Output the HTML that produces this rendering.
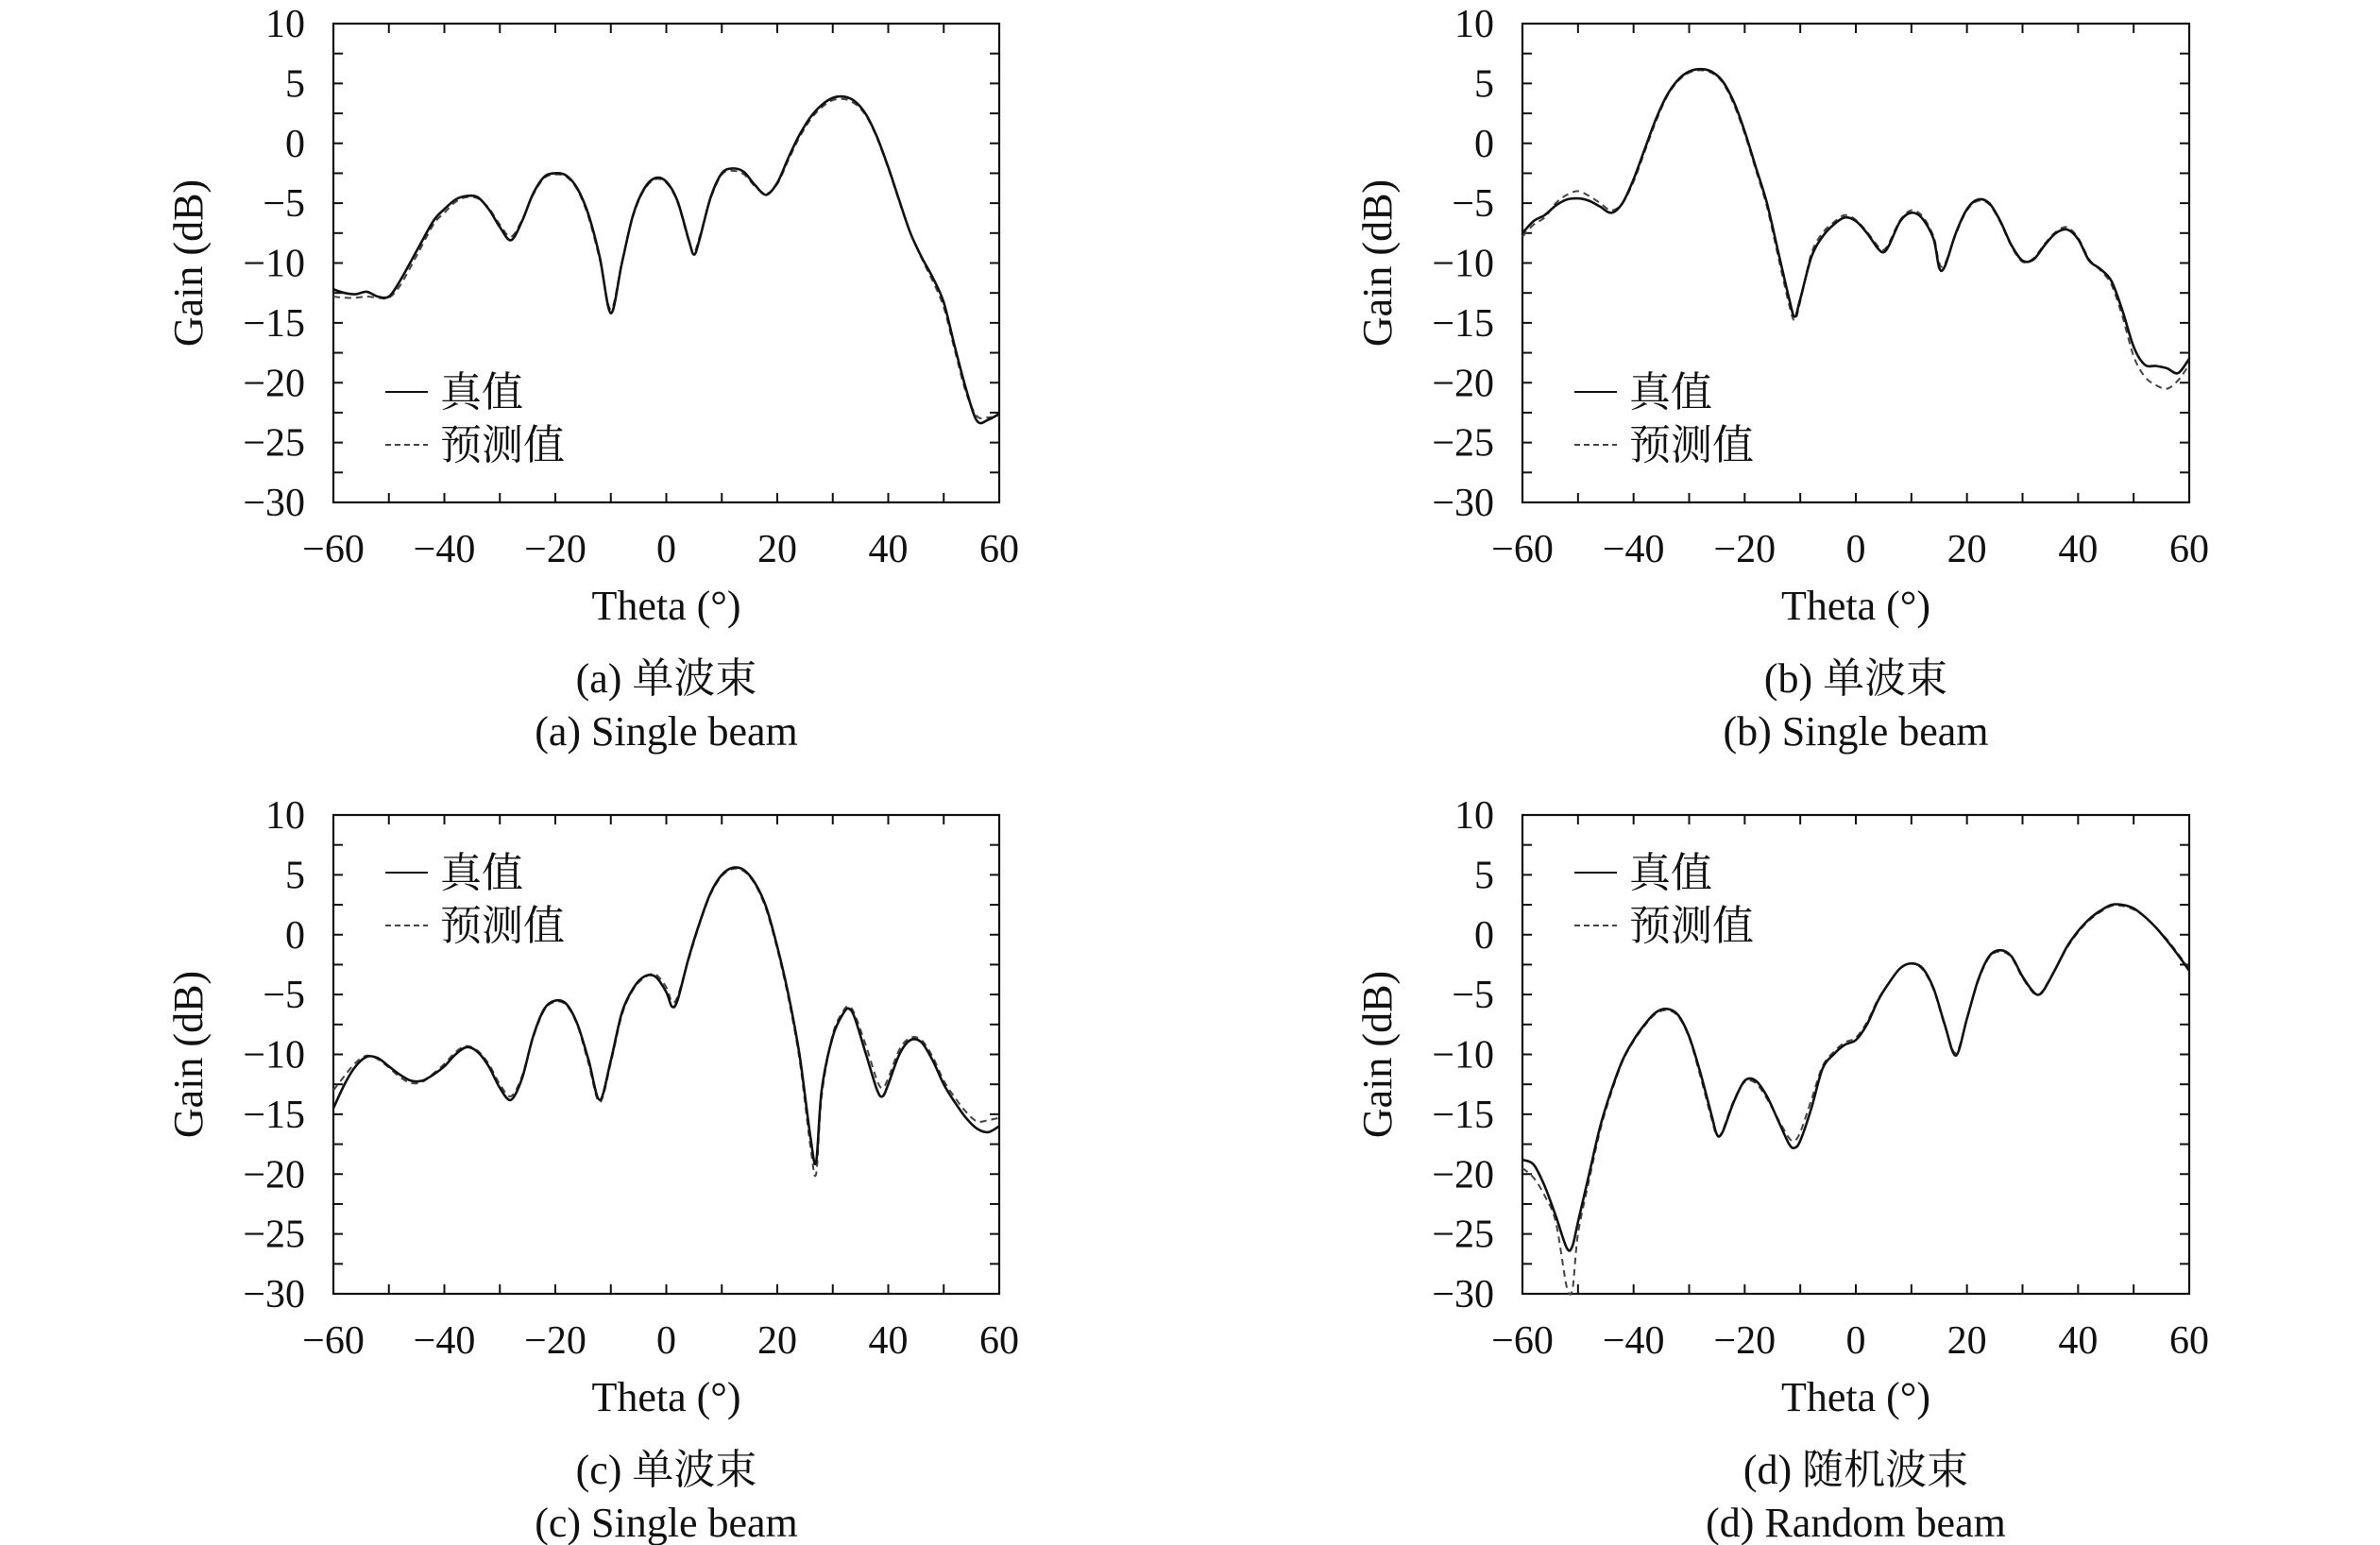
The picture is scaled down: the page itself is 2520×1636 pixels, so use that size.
<!DOCTYPE html>
<html><head><meta charset="utf-8"><style>
html,body{margin:0;padding:0;background:#fff;}
svg{display:block;}
text{font-family:"Liberation Serif","Noto Serif CJK SC",serif;fill:#111;}
</style></head><body>
<svg id="fig" width="2520" height="1636" viewBox="0 0 2520 1636" xmlns="http://www.w3.org/2000/svg"></svg>
<script>
const xTicks=[-60,-40,-20,0,20,40,60];
const yTicks=[10,5,0,-5,-10,-15,-20,-25,-30];
const legendLabels=["真值","预测值"];

const thetaA=[-60,-58,-56,-54,-52,-50,-48,-45,-42,-40,-38,-36,-34,-32,-30,-28,-26,-24,-22,-20,-18,-16,-14,-12,-10,-8,-6,-4,-2,0,2,4,5,6,8,10,12,14,16,18,20,22,24,26,28,30,32,34,36,38,40,42,44,46,48,50,52,54,56,58,60];
const trueA=[-12.2,-12.5,-12.6,-12.4,-12.8,-12.8,-11.5,-9,-6.5,-5.5,-4.7,-4.4,-4.5,-5.5,-7,-8.1,-6.5,-4.2,-2.8,-2.5,-2.7,-3.8,-6,-9.5,-14.2,-10,-6,-3.8,-2.9,-3.2,-4.8,-8,-9.3,-8,-4.5,-2.5,-2.1,-2.4,-3.5,-4.3,-3.3,-1.2,0.7,2.2,3.2,3.8,3.9,3.5,2.4,0.5,-2,-4.8,-7.5,-9.5,-11.2,-13.3,-17,-20.5,-23.2,-23.1,-22.6];
const predA=[-12.8,-12.9,-12.9,-12.8,-12.9,-12.9,-11.9,-9.4,-6.8,-5.8,-4.9,-4.5,-4.6,-5.4,-6.8,-7.8,-6.4,-4.3,-2.9,-2.6,-2.8,-3.9,-6.2,-9.7,-13.9,-9.9,-6.1,-3.9,-3,-3.3,-4.9,-8.1,-9.1,-7.8,-4.6,-2.6,-2.3,-2.6,-3.6,-4.2,-3.4,-1.4,0.5,2,3,3.6,3.7,3.3,2.3,0.4,-2.1,-4.9,-7.5,-9.6,-11.5,-13.7,-17.3,-20.8,-22.8,-22.9,-22.8];

const thetaB=[-60,-58,-56,-54,-52,-50,-48,-46,-44,-42,-40,-38,-36,-34,-32,-30,-28,-26,-24,-22,-20,-18,-16,-14,-12,-11,-10,-8,-6,-4,-2,0,2,4,5,6,8,10,12,14,15,16,18,20,22,24,26,28,30,32,34,36,38,40,42,44,46,48,50,52,54,56,58,60];
const trueB=[-7.5,-6.5,-6,-5.2,-4.7,-4.6,-4.8,-5.3,-5.8,-5,-3,-0.5,2,4,5.3,6,6.2,6,5.2,3.5,1,-2,-5,-9,-13,-14.5,-13,-9.5,-7.8,-6.8,-6.2,-6.5,-7.5,-8.8,-9.1,-8.5,-6.5,-5.8,-6.3,-8,-10.4,-10.3,-7.5,-5.5,-4.7,-5,-6.5,-8.5,-9.8,-9.7,-8.5,-7.5,-7.2,-8,-9.8,-10.5,-11.5,-14,-17,-18.5,-18.6,-18.8,-19.2,-18];
const predB=[-7.8,-6.8,-6.2,-5,-4.3,-4,-4.4,-5,-5.6,-5,-3.2,-0.7,1.8,3.9,5.2,5.9,6.1,5.9,5.1,3.3,0.8,-2.2,-5.3,-9.4,-13.5,-14.8,-13.2,-9.2,-7.5,-6.6,-6,-6.4,-7.4,-8.6,-8.9,-8.3,-6.4,-5.6,-6.1,-7.8,-10,-10.1,-7.6,-5.6,-4.8,-5.1,-6.6,-8.6,-9.9,-9.6,-8.4,-7.4,-7,-7.9,-9.7,-10.6,-11.8,-14.5,-17.8,-19.5,-20.2,-20.5,-19.8,-18.5];

const thetaC=[-60,-58,-56,-54,-52,-50,-48,-46,-44,-42,-40,-38,-36,-34,-32,-30,-28,-26,-24,-22,-20,-18,-16,-14,-12,-10,-8,-6,-4,-2,0,1,2,4,6,8,10,12,14,16,18,20,22,24,26,27,28,30,32,33,34,36,38,39,40,42,44,46,48,50,52,54,56,58,60];
const trueC=[-14.5,-12.5,-11,-10.2,-10.3,-11,-11.7,-12.2,-12.2,-11.7,-11,-10,-9.4,-9.8,-11,-12.8,-13.8,-12,-8.5,-6.2,-5.5,-5.8,-7.5,-10.5,-13.8,-10.5,-6.5,-4.5,-3.5,-3.5,-4.8,-6,-5.5,-2,1,3.5,5,5.6,5.4,4.3,2.3,-1,-5,-10,-17,-19,-13,-8.5,-6.5,-6.2,-7,-10,-13,-13.5,-12.5,-10,-8.8,-9,-10.5,-12.5,-14,-15.3,-16.2,-16.5,-16];
const predC=[-13,-11.8,-10.7,-10.1,-10.4,-11.1,-11.9,-12.4,-12.3,-11.6,-10.8,-9.8,-9.3,-9.7,-10.8,-12.5,-13.5,-11.8,-8.6,-6.3,-5.6,-5.9,-7.6,-10.8,-14,-10.7,-6.7,-4.6,-3.6,-3.3,-4.4,-5.6,-5.2,-2.1,0.9,3.4,4.9,5.5,5.3,4.2,2.1,-1.2,-5.3,-10.4,-17.8,-20,-13.5,-8.3,-6.3,-6,-6.7,-9.3,-12.2,-12.8,-12,-9.6,-8.6,-8.8,-10.2,-12.2,-13.6,-14.8,-15.6,-15.5,-15.3];

const thetaD=[-60,-58,-56,-54,-52,-51,-50,-48,-46,-44,-42,-40,-38,-36,-34,-32,-30,-28,-26,-25,-24,-22,-20,-18,-16,-14,-12,-11,-10,-8,-6,-4,-2,0,2,4,6,8,10,12,14,16,18,20,22,24,26,28,30,32,33,34,36,38,40,42,44,46,48,50,52,54,56,58,60];
const trueD=[-18.8,-19.2,-21,-23.5,-26.2,-26,-24,-20,-16,-13,-10.5,-8.8,-7.5,-6.5,-6.2,-6.7,-8.5,-11.5,-15,-16.7,-16.5,-14,-12.2,-12.2,-13.5,-15.5,-17.5,-17.8,-17.2,-14.5,-11.2,-10,-9.2,-8.8,-7.5,-5.5,-4,-2.8,-2.4,-2.8,-4.5,-7.5,-10.1,-7,-3.8,-1.8,-1.3,-1.8,-3.5,-4.8,-5,-4.5,-2.8,-1,0.3,1.3,2,2.5,2.5,2.2,1.5,0.6,-0.5,-1.7,-3];
const predD=[-19.5,-20.3,-21.8,-24,-29.5,-29.6,-25,-20.5,-16.3,-13.2,-10.6,-8.9,-7.6,-6.6,-6.3,-6.8,-8.6,-11.8,-15.3,-16.8,-16.4,-13.9,-12.3,-12.4,-13.7,-15.4,-17,-17.2,-16.5,-13.8,-11,-9.8,-9,-8.6,-7.3,-5.4,-4,-2.8,-2.4,-2.9,-4.6,-7.6,-9.9,-7,-3.9,-1.9,-1.4,-1.9,-3.6,-4.9,-5,-4.4,-2.8,-1.1,0.2,1.2,1.9,2.4,2.4,2.1,1.5,0.6,-0.4,-1.6,-2.9];

const panels=[
 {id:'a',x0:353,x1:1058,y0:25,y1:532,th:thetaA,tr:trueA,pr:predA,cap1:'(a) 单波束',cap2:'(a) Single beam',legY:415},
 {id:'b',x0:1612,x1:2318,y0:25,y1:532,th:thetaB,tr:trueB,pr:predB,cap1:'(b) 单波束',cap2:'(b) Single beam',legY:415},
 {id:'c',x0:353,x1:1058,y0:863,y1:1370,th:thetaC,tr:trueC,pr:predC,cap1:'(c) 单波束',cap2:'(c) Single beam',legY:924},
 {id:'d',x0:1612,x1:2318,y0:863,y1:1370,th:thetaD,tr:trueD,pr:predD,cap1:'(d) 随机波束',cap2:'(d) Random beam',legY:924}
];
const NS='http://www.w3.org/2000/svg';
const svg=document.getElementById('fig');
function mk(tag,attrs,parent,txt){const e=document.createElementNS(NS,tag);for(const k in attrs)e.setAttribute(k,attrs[k]);if(txt!==undefined)e.textContent=txt;parent.appendChild(e);return e;}
function smooth(pts){
  let d='M'+pts[0][0].toFixed(1)+' '+pts[0][1].toFixed(1);
  for(let i=0;i<pts.length-1;i++){
    const p0=pts[Math.max(0,i-1)],p1=pts[i],p2=pts[i+1],p3=pts[Math.min(pts.length-1,i+2)];
    const t=0.16;
    let c1x=p1[0]+(p2[0]-p0[0])*t,c1y=p1[1]+(p2[1]-p0[1])*t;
    let c2x=p2[0]-(p3[0]-p1[0])*t,c2y=p2[1]-(p3[1]-p1[1])*t;
    const lo=Math.min(p1[1],p2[1]),hi=Math.max(p1[1],p2[1]);
    c1y=Math.min(Math.max(c1y,lo-8),hi+8);c2y=Math.min(Math.max(c2y,lo-8),hi+8);
    d+=` C${c1x.toFixed(1)} ${c1y.toFixed(1)} ${c2x.toFixed(1)} ${c2y.toFixed(1)} ${p2[0].toFixed(1)} ${p2[1].toFixed(1)}`;
  }
  return d;
}
panels.forEach(p=>{
  const g=mk('g',{},svg);
  
  
  const sx=v=>p.x0+(v+60)/120*(p.x1-p.x0);
  const sy=v=>p.y0+(10-v)/40*(p.y1-p.y0);
  const frame=mk('rect',{x:p.x0,y:p.y0,width:p.x1-p.x0,height:p.y1-p.y0,fill:'none',stroke:'#111','stroke-width':2.2},g);
  
  
  for(let v=-60;v<=60;v+=10){const x=sx(v);const L=10;
    mk('line',{x1:x,y1:p.y1,x2:x,y2:p.y1-L,stroke:'#111','stroke-width':2},g);
    mk('line',{x1:x,y1:p.y0,x2:x,y2:p.y0+L,stroke:'#111','stroke-width':2},g);}
  for(let v=-30;v<=10;v+=2.5){const y=sy(v);const L=10;
    mk('line',{x1:p.x0,y1:y,x2:p.x0+L,y2:y,stroke:'#111','stroke-width':2},g);
    mk('line',{x1:p.x1,y1:y,x2:p.x1-L,y2:y,stroke:'#111','stroke-width':2},g);}
  xTicks.forEach(v=>{const t=mk('text',{x:sx(v),y:p.y1+63,'font-size':42,'text-anchor':'middle'},g,(v<0?'−':'')+Math.abs(v));
    
    });
  yTicks.forEach(v=>{const t=mk('text',{x:p.x0-30,y:sy(v)+14,'font-size':42,'text-anchor':'end'},g,(v<0?'−':'')+Math.abs(v));
    
    });
  const xt=mk('text',{x:(p.x0+p.x1)/2,y:p.y1+124,'font-size':44,'text-anchor':'middle'},g,'Theta (°)');
  
  
  const yc=(p.y0+p.y1)/2;
  const yt=mk('text',{x:p.x0-153,y:yc,'font-size':44,'text-anchor':'middle',transform:`rotate(-90 ${p.x0-153} ${yc})`,dy:14},g,'Gain (dB)');
  
  
  const c1=mk('text',{x:(p.x0+p.x1)/2,y:p.y1+201,'font-size':44,'text-anchor':'middle'},g,p.cap1);
  
  
  const c2=mk('text',{x:(p.x0+p.x1)/2,y:p.y1+257,'font-size':44,'text-anchor':'middle'},g,p.cap2);
  
  
  const pathOf=arr=>smooth(arr.map((v,i)=>[sx(p.th[i]),sy(v)]));
  const lp=mk('path',{d:pathOf(p.pr),fill:'none',stroke:'#444','stroke-width':2,'stroke-dasharray':'7 5'},g);
  
  
  const lt=mk('path',{d:pathOf(p.tr),fill:'none',stroke:'#111','stroke-width':2.6,'stroke-linejoin':'round'},g);
  
  
  legendLabels.forEach((lab,i)=>{
    const y=p.legY+i*56;
    const lg=mk('g',{},g);
    
    
    mk('line',{x1:p.x0+55,y1:y,x2:p.x0+100,y2:y,stroke:i?'#444':'#111','stroke-width':2,'stroke-dasharray':i?'6 4':'none'},lg);
    mk('text',{x:p.x0+113,y:y+15,'font-size':44},lg,lab);
  });
});
</script>
</body></html>
